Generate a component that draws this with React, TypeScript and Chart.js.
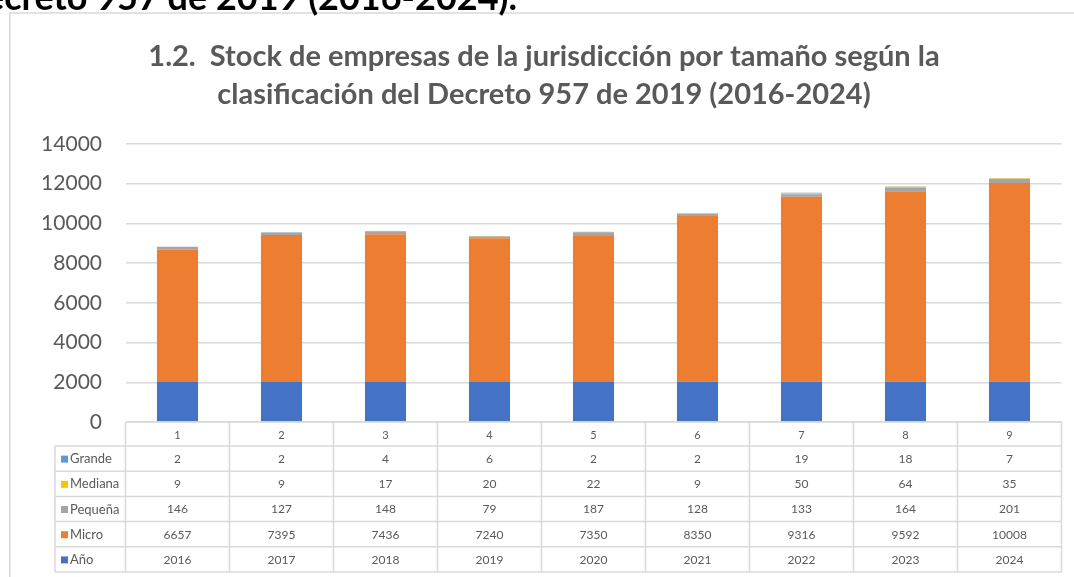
import React, { useEffect, useRef } from "react";
import { Chart, registerables } from "chart.js";

Chart.register(...registerables);

const categories = ["1", "2", "3", "4", "5", "6", "7", "8", "9"];
const anio = [2016, 2017, 2018, 2019, 2020, 2021, 2022, 2023, 2024];
const micro = [6657, 7395, 7436, 7240, 7350, 8350, 9316, 9592, 10008];
const pequena = [146, 127, 148, 79, 187, 128, 133, 164, 201];
const mediana = [9, 9, 17, 20, 22, 9, 50, 64, 35];
const grande = [2, 2, 4, 6, 2, 2, 19, 18, 7];

const seriesNames = ["Año", "Micro", "Pequeña", "Mediana", "Grande"];
const seriesValues = [anio, micro, pequena, mediana, grande];
const seriesColors = ["#4472C4", "#ED7D31", "#A5A5A5", "#FFC000", "#5B9BD5"];

const yMin = 0;
const yMax = 14000;
const yStep = 2000;

const titleLines = [
  "1.2.  Stock de empresas de la jurisdicción por tamaño según la",
  "clasificación del Decreto 957 de 2019 (2016-2024)",
];
const headingText = "Decreto 957 de 2019 (2016-2024).";

const GRAY_TEXT = "#595959";
const GRID = "#D9D9D9";
const FONT = "Lato, 'Open Sans', sans-serif";

const framePlugin = {
  id: "frame",
  beforeDraw(chart: any) {
    const ctx = chart.ctx;
    ctx.save();
    ctx.strokeStyle = GRID;
    ctx.lineWidth = 1.5;
    ctx.beginPath();
    ctx.moveTo(9.75, chart.height);
    ctx.lineTo(9.75, 13);
    ctx.lineTo(chart.width, 13);
    ctx.stroke();
    ctx.restore();
  },
};

const tablePlugin = {
  id: "dataTable",
  afterDraw(chart: any) {
    const ctx = chart.ctx;
    const xs = chart.scales.x;
    const area = chart.chartArea;
    const half = (xs.getPixelForValue(1) - xs.getPixelForValue(0)) / 2;
    const top = area.bottom;
    const headerH = 24;
    const rowH = 25.2;
    const legendLeft = 55;
    const nRows = seriesNames.length;
    const rowEdges: number[] = [top, top + headerH];
    for (let i = 1; i <= nRows; i++) rowEdges.push(top + headerH + rowH * i);
    const bottom = rowEdges[rowEdges.length - 1];
    const colEdges: number[] = [];
    for (let i = 0; i < categories.length; i++) colEdges.push(xs.getPixelForValue(i) - half);
    colEdges.push(xs.getPixelForValue(categories.length - 1) + half);

    ctx.save();
    ctx.strokeStyle = GRID;
    ctx.lineWidth = 1.5;
    ctx.beginPath();
    ctx.moveTo(area.left, top);
    ctx.lineTo(area.right, top);
    for (let i = 1; i < rowEdges.length; i++) {
      ctx.moveTo(legendLeft, rowEdges[i]);
      ctx.lineTo(colEdges[colEdges.length - 1], rowEdges[i]);
    }
    ctx.moveTo(legendLeft, rowEdges[1]);
    ctx.lineTo(legendLeft, bottom);
    for (const cx of colEdges) {
      ctx.moveTo(cx, top);
      ctx.lineTo(cx, bottom);
    }
    ctx.stroke();

    ctx.fillStyle = GRAY_TEXT;
    ctx.textAlign = "center";
    ctx.textBaseline = "middle";
    ctx.font = `11px ${FONT}`;
    categories.forEach((c, i) => {
      ctx.fillText(c, xs.getPixelForValue(i), (rowEdges[0] + rowEdges[1]) / 2 + 1);
    });

    for (let r = 0; r < nRows; r++) {
      const s = nRows - 1 - r;
      const cy = (rowEdges[r + 1] + rowEdges[r + 2]) / 2 + 0.5;
      ctx.fillStyle = seriesColors[s];
      ctx.fillRect(legendLeft + 6, cy - 3.5, 7, 7);
      ctx.fillStyle = GRAY_TEXT;
      ctx.textAlign = "left";
      ctx.font = `13px ${FONT}`;
      ctx.fillText(seriesNames[s], legendLeft + 15, cy);
      ctx.textAlign = "center";
      ctx.font = `12px ${FONT}`;
      seriesValues[s].forEach((v, i) => {
        ctx.fillText(String(v), xs.getPixelForValue(i), cy);
      });
    }
    ctx.restore();
  },
};

function ChartCanvas() {
  const ref = useRef<HTMLCanvasElement | null>(null);
  useEffect(() => {
    if (!ref.current) return;
    const chart = new Chart(ref.current, {
      type: "bar",
      data: {
        labels: categories,
        datasets: seriesNames.map((name, i) => ({
          label: name,
          data: seriesValues[i],
          backgroundColor: seriesColors[i],
          borderWidth: 0,
          categoryPercentage: 1,
          barPercentage: 0.395,
        })),
      },
      options: {
        responsive: false,
        animation: false,
        devicePixelRatio: 1,
        layout: { padding: { top: 13, left: 26.5, right: 12.5, bottom: 155 } },
        plugins: {
          legend: { display: false },
          tooltip: { enabled: false },
          title: {
            display: true,
            text: titleLines,
            color: GRAY_TEXT,
            font: { family: FONT, size: 29, weight: "bold", lineHeight: 1.31 },
            padding: { top: 25, bottom: 30 },
          },
        },
        scales: {
          x: {
            stacked: true,
            display: false,
          },
          y: {
            stacked: true,
            min: yMin,
            max: yMax,
            ticks: {
              stepSize: yStep,
              color: GRAY_TEXT,
              font: { family: FONT, size: 21 },
              padding: 23.5,
              callback: (v: any) => String(v),
            },
            grid: { color: GRID, lineWidth: 1.5, drawTicks: false },
            border: { display: false },
            afterFit: (scale: any) => {
              scale.width = 99;
            },
          },
        },
      },
      plugins: [framePlugin, tablePlugin],
    });
    return () => chart.destroy();
  }, []);
  return <canvas ref={ref} width={1074} height={577} style={{ display: "block", width: 1074, height: 577 }} />;
}

export default function App() {
  return (
    <div style={{ position: "absolute", left: 0, top: 0, width: 1074, height: 577, overflow: "hidden", background: "#fff" }}>
      <div style={{ position: "absolute", left: 0, top: 0 }}>
        <ChartCanvas />
      </div>
      <div
        style={{
          position: "absolute",
          right: 557,
          top: -22,
          fontFamily: FONT,
          fontWeight: "bold",
          fontSize: 36,
          lineHeight: "36px",
          whiteSpace: "nowrap",
          color: "#000",
        }}
      >
        {headingText}
      </div>
    </div>
  );
}
